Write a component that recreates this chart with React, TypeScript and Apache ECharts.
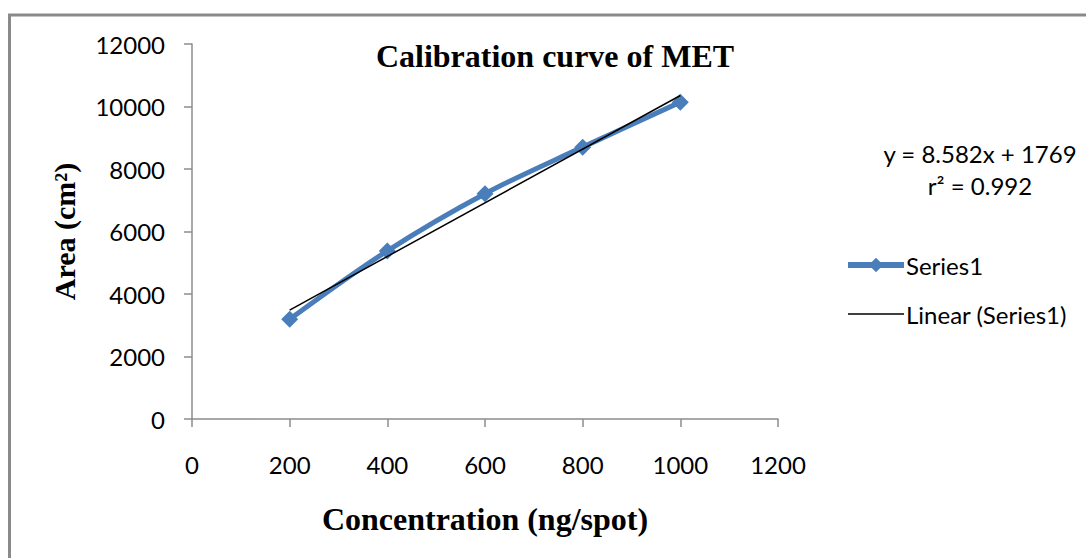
import React, { useEffect, useRef } from "react";
import * as echarts from "echarts";

const concentrations = [200, 400, 600, 800, 1000];
const areas = [3190, 5380, 7210, 8700, 10140];
const slope = 8.582;
const intercept = 1769;
const equationText = "y = 8.582x + 1769";
const r2Text = "r² = 0.992";
const titleText = "Calibration curve of MET";
const xTitle = "Concentration (ng/spot)";
const yTitle = "Area (cm²)";

export default function App() {
  const ref = useRef<HTMLDivElement>(null);
  useEffect(() => {
    if (!ref.current) return;
    const chart = echarts.init(ref.current, null, { renderer: "svg" });
    const seriesData = concentrations.map((c, i) => [c, areas[i]]);
    const xs = [concentrations[0], concentrations[concentrations.length - 1]];
    const trendData = xs.map((x) => [x, slope * x + intercept]);
    const axisColor = "#8c8c8c";
    const labelFont = { fontFamily: "Lato", fontSize: 24, color: "#000" };
    const fmt = (v: number) => String(v);
    chart.setOption({
      animation: false,
      backgroundColor: "#fff",
      grid: { left: 192, top: 44, width: 586, height: 375 },
      title: {
        text: titleText,
        left: 550,
        top: 35,
        textAlign: "center",
        textStyle: { fontFamily: "Liberation Serif", fontWeight: "bold", fontSize: 32, color: "#000" },
      },
      xAxis: {
        type: "value",
        min: 0,
        max: 1200,
        interval: 200,
        splitLine: { show: false },
        axisLine: { lineStyle: { color: axisColor, width: 1.5 } },
        axisTick: { show: true, inside: false, length: 8, lineStyle: { color: axisColor, width: 1.5 } },
        axisLabel: { ...labelFont, margin: 33, formatter: fmt },
        name: xTitle,
        nameLocation: "middle",
        nameGap: 84,
        nameTextStyle: { fontFamily: "Liberation Serif", fontWeight: "bold", fontSize: 32, color: "#000" },
      },
      yAxis: {
        type: "value",
        min: 0,
        max: 12000,
        interval: 2000,
        splitLine: { show: false },
        axisLine: { show: true, lineStyle: { color: axisColor, width: 1.5 } },
        axisTick: { show: true, inside: false, length: 8, lineStyle: { color: axisColor, width: 1.5 } },
        axisLabel: { ...labelFont, margin: 27, formatter: fmt },
        name: yTitle,
        nameLocation: "middle",
        nameGap: 113,
        nameRotate: 90,
        nameTextStyle: { fontFamily: "Liberation Serif", fontWeight: "bold", fontSize: 30, color: "#000" },
      },
      legend: {
        orient: "vertical",
        left: 840,
        top: 248,
        itemGap: 25,
        itemWidth: 56,
        itemHeight: 18,
        textStyle: { fontFamily: "Lato", fontSize: 24, color: "#000", padding: [0, 0, 0, -3] },
        data: [
          { name: "Series1", lineStyle: { width: 6, color: "#4A7EBB" } },
          { name: "Linear (Series1)", itemStyle: { opacity: 0 }, lineStyle: { width: 1.5, color: "#000" } },
        ],
      },
      series: [
        {
          name: "Series1",
          type: "line",
          data: seriesData,
          smooth: 0.35,
          symbol: "diamond",
          symbolSize: 17,
          lineStyle: { color: "#4A7EBB", width: 5 },
          itemStyle: { color: "#4A7EBB" },
          z: 2,
        },
        {
          name: "Linear (Series1)",
          type: "line",
          data: trendData,
          symbol: "none",
          lineStyle: { color: "#000", width: 1.5 },
          itemStyle: { color: "#000" },
          z: 3,
        },
      ],
      graphic: [
        {
          type: "rect",
          shape: { x: 9.5, y: 15, width: 1200, height: 800 },
          style: { fill: "none", stroke: "#8a8a8a", lineWidth: 3 },
          silent: true,
        },
        {
          type: "text",
          x: 980,
          y: 153,
          style: { text: equationText, fontFamily: "Lato", fontSize: 24, fill: "#000", align: "center", verticalAlign: "middle" },
        },
        {
          type: "text",
          x: 980,
          y: 185,
          style: { text: r2Text, fontFamily: "Lato", fontSize: 24, fill: "#000", align: "center", verticalAlign: "middle" },
        },
      ],
    });
    return () => chart.dispose();
  }, []);
  return <div ref={ref} style={{ position: "absolute", left: 0, top: 0, width: 1086, height: 558 }} />;
}
